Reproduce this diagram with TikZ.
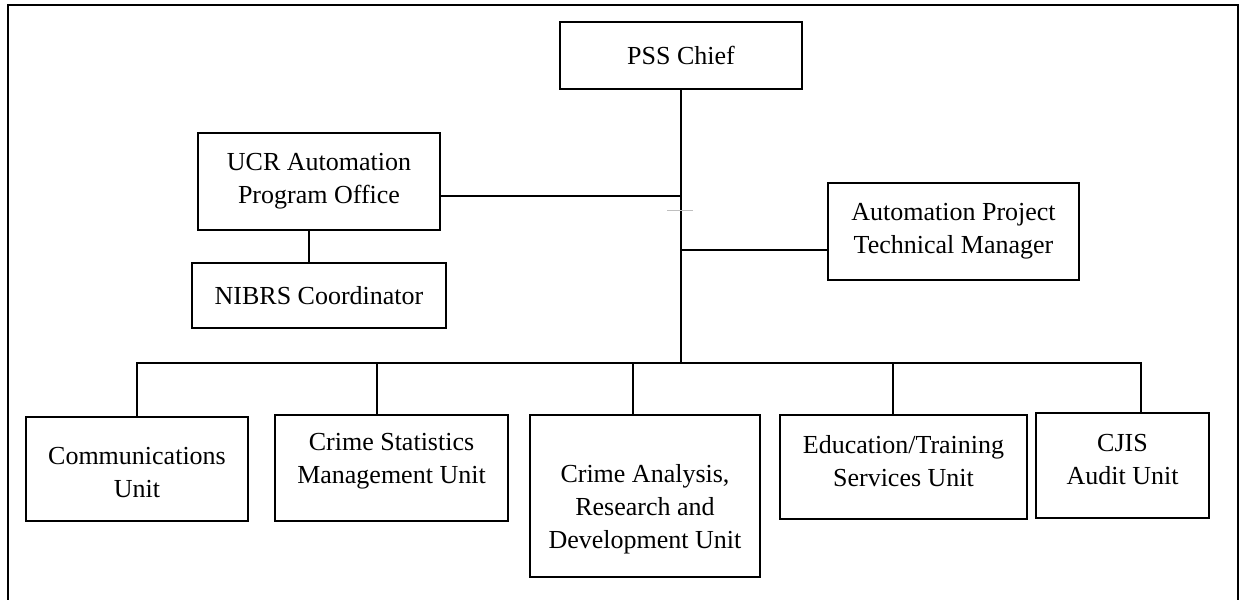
\documentclass[tikz,border=0pt]{standalone}
\usepackage{fontspec}
\setmainfont{Liberation Serif}
\begin{document}
\begin{tikzpicture}[x=0.5pt,y=-0.5pt,
  box/.style={draw=black, line width=1pt, inner sep=0pt, align=center, font=\fontsize{13}{16.5}\selectfont},
  lbl/.style={inner sep=0pt, align=center, font=\fontsize{13}{16.5}\selectfont},
  conn/.style={line width=1pt},
  tick/.style={draw=black!25, line width=0.5pt}]
\useasboundingbox (0,0) rectangle (1244,600);
\draw[line width=1pt] (7.5,610) -- (7.5,5) -- (1237.5,5) -- (1237.5,610);
% upper boxes
\node[box, minimum width=121pt, minimum height=33.5pt] (pss) at (681,55.5) {PSS Chief};
\node[box, minimum width=121pt, minimum height=48.5pt] (ucr) at (319,181.5) {UCR Automation\\Program Office};
\node[box, minimum width=127pt, minimum height=32.5pt] (nibrs) at (319,295.5) {NIBRS Coordinator};
\node[box, minimum width=125.5pt, minimum height=48.5pt] (auto) at (953.5,231.5) {Automation Project\\Technical Manager};
% lower boxes
\node[box, minimum width=111pt, minimum height=52pt] (comm) at (137,469) {};
\node[box, minimum width=116.5pt, minimum height=53pt] (stats) at (391.5,468) {};
\node[box, minimum width=115pt, minimum height=81pt] (anal) at (645,496) {};
\node[box, minimum width=123.5pt, minimum height=52pt] (edu) at (903.5,467) {};
\node[box, minimum width=86.5pt, minimum height=52.5pt] (cjis) at (1122.5,465.5) {};
\node[lbl] (commT) at (137,472.5) {Communications\\Unit};
\node[lbl] (statsT) at (391.5,461.5) {Crime Statistics\\Management Unit};
\node[lbl] (analT) at (645,509.5) {Crime Analysis,\\Research and\\Development Unit};
\node[lbl] (eduT) at (903.5,461.5) {Education/Training\\Services Unit};
\node[lbl] (cjisT) at (1122.5,460) {CJIS\\Audit Unit};
% junction coordinates
\coordinate (trunk) at (681,363);
\coordinate (jU) at (681,196);
\coordinate (jA) at (681,250);
\coordinate (b1) at (137,363);
\coordinate (b2) at (377,363);
\coordinate (b3) at (633,363);
\coordinate (b4) at (893,363);
\coordinate (b5) at (1141,363);
\coordinate (dn) at (309,263);
% connectors
\draw[conn] (pss.south) -- (trunk);
\draw[conn] (jU) -- (jU -| ucr.east);
\draw[conn] (jA) -- (jA -| auto.west);
\draw[conn] (b1 |- comm.north) -- (b1) -- (b5) -- (b5 |- cjis.north);
\draw[conn] (b2) -- (b2 |- stats.north);
\draw[conn] (b3) -- (b3 |- anal.north);
\draw[conn] (b4) -- (b4 |- edu.north);
\draw[conn] (dn |- ucr.south) -- (dn |- nibrs.north);
\draw[tick] (667,210) -- (693,210);
\end{tikzpicture}
\end{document}
